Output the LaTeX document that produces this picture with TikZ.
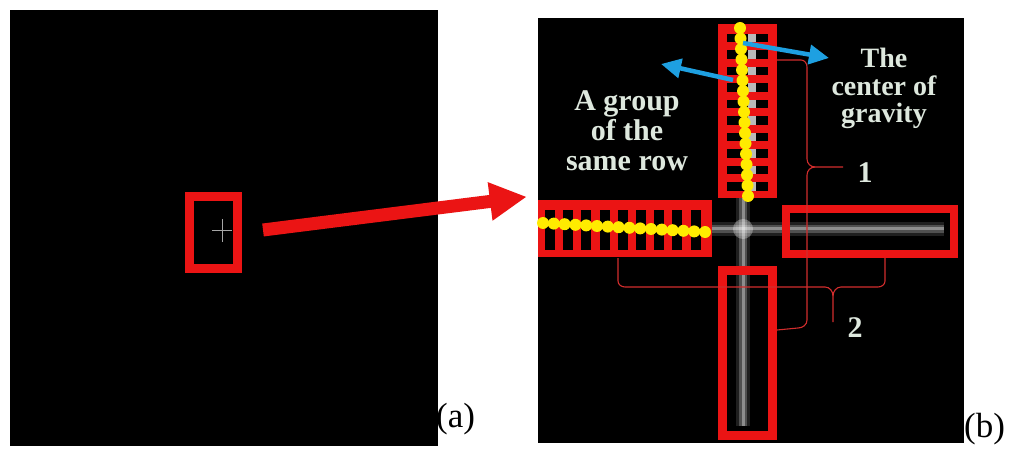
\documentclass[tikz,border=0pt]{standalone}
\usepackage{fontspec}
\setmainfont{Liberation Serif}
\usepackage{xcolor}
\usetikzlibrary{arrows.meta,positioning}

\definecolor{boxred}{RGB}{235,20,20}
\definecolor{dotyellow}{RGB}{255,235,0}
\definecolor{arrowblue}{RGB}{30,160,225}
\definecolor{labelwhite}{RGB}{222,232,222}
\definecolor{bracered}{RGB}{210,45,45}

\begin{document}
\begin{tikzpicture}[x=1pt,y=-1pt]
	\tikzstyle{panel}=[fill=black, draw=none, inner sep=0pt]
	\tikzstyle{redframe}=[draw=boxred, line width=9pt, inner sep=0pt]
	\tikzstyle{redgrid}=[fill=boxred, draw=none, inner sep=0pt]
	\tikzstyle{bead}=[fill=dotyellow]
	\tikzstyle{bluearrow}=[draw=arrowblue, line width=4.5pt, -{Triangle[length=20pt,width=19pt]}]
	\tikzstyle{bigarrow}=[draw=boxred, line width=13pt, -{Triangle[length=37pt,width=36pt]}]
	\tikzstyle{brace}=[draw=bracered, line width=1.1pt]
	\tikzstyle{caption}=[text=labelwhite, font=\bfseries\fontsize{30}{30}\selectfont, align=center, inner sep=0pt]
	\tikzstyle{sublabel}=[font=\fontsize{35}{35}\selectfont, inner sep=0pt, anchor=base west]

	\useasboundingbox[fill=white] (0,0) rectangle (1024,462);

	% the two pictures
	\node[panel, minimum width=428pt, minimum height=436pt] (panelA) at (224,228) {};
	\node[panel, minimum width=426pt, minimum height=425pt] (panelB) at (751,230.5) {};

	% (a): the cross and its box
	\draw[gray!70, line width=1pt] (212,231) -- (232,231) (222,219) -- (222,242);
	\node[redframe, minimum width=48pt, minimum height=72pt] (boxA) at (213.5,232.5) {};

	% (b): the blurred cross
	\foreach \w/\o in {14pt/0.12, 8pt/0.22, 3pt/0.35} {
		\draw[white, opacity=\o, line width=\w] (743,30) -- (743,426);
		\draw[white, opacity=\o, line width=\w] (541,229) -- (944,229);
	}
	\fill[white, opacity=0.3] (743,229) circle (10);

	\node[redframe, line width=8pt, minimum width=168pt, minimum height=45pt] (boxR) at (870,231.5) {};
	\node[redframe, minimum width=50pt, minimum height=165pt] (boxB) at (747.5,353) {};

	% the two scanned groups
	\node[redgrid, minimum width=59pt, minimum height=174pt] (gridT) at (747.5,111) {};
	\foreach \i in {0,...,9} {
		\fill[black] (727,{34+16.5*\i}) rectangle (768,{42.5+16.5*\i});
		\fill[gray!55] (748,{34+16.5*\i}) rectangle (756,{42.5+16.5*\i});
	}
	\node[redgrid, minimum width=174pt, minimum height=57pt] (gridL) at (625,228.5) {};
	\foreach \i in {0,...,8}
		\fill[black] ({545+18.2*\i},210) rectangle ({555+18.2*\i},250);

	\foreach \i in {0,...,16}
		\fill[bead] ({740+0.5*\i},{28+10.5*\i}) circle (6);
	\foreach \i in {0,...,15}
		\fill[bead] ({543+10.8*\i},{223+0.6*\i}) circle (6);

	% labels
	\node[caption, anchor=north] (rowtext) at (627,90) {A group\\of the\\same row};
	\node[caption, anchor=north, font=\bfseries\fontsize{28}{27.5}\selectfont] (cgtext) at (884,48) {The\\center of\\gravity};
	\node[caption, anchor=base] (one) at (865,183) {1};
	\node[caption, anchor=base] (two) at (855,337) {2};

	\coordinate (rowpt) at (733,80);
	\coordinate (rowtip) at (661,64);
	\coordinate (cgpt) at (743,43);
	\coordinate (cgtip) at (829,58);
	\draw[bluearrow] (rowpt) -- (rowtip);
	\draw[bluearrow] (cgpt) -- (cgtip);

	% braces
	\draw[brace] (777,60) -- (801,60) to[out=0,in=90] (807,67) -- (807,159)
		to[out=-90,in=180] (815,167) -- (843,167);
	\draw[brace] (815,167) to[out=180,in=90] (807,175) -- (807,320)
		to[out=-90,in=0] (798,328) -- (777,330);
	\draw[brace] (618,258) -- (618,281) to[out=-90,in=180] (625,287) -- (825,287)
		to[out=0,in=90] (833,296) -- (833,322);
	\draw[brace] (885,258) -- (885,281) to[out=-90,in=0] (878,287) -- (841,287)
		to[out=180,in=90] (833,296);

	% zoom arrow
	\draw[bigarrow] ([xshift=21pt,yshift=2.5pt]boxA.east) -- ([xshift=-11pt,yshift=3pt]gridL.north west);

	\node[sublabel] (capA) at (436,427) {(a)};
	\node[sublabel] (capB) at (964,437) {(b)};
\end{tikzpicture}
\end{document}
